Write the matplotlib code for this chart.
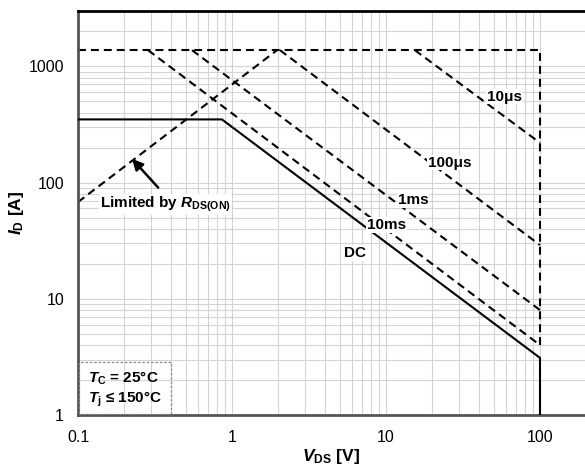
import matplotlib
matplotlib.use('Agg')
import matplotlib.pyplot as plt
from matplotlib.patches import Rectangle

plt.rcParams['font.family'] = ['Liberation Sans', 'DejaVu Sans']
plt.rcParams['mathtext.fontset'] = 'custom'
plt.rcParams['mathtext.rm'] = 'Liberation Sans:bold'
plt.rcParams['mathtext.it'] = 'Liberation Sans:bold:italic'
plt.rcParams['mathtext.bf'] = 'Liberation Sans:bold'

# safe operating area curves (V_DS in V, I_D in A)
vds_dc = [0.1, 0.86, 100, 100]
id_dc = [350, 350, 3.1, 1]

vds_top = [0.1, 100, 100]
id_top = [1380, 1380, 4.0]

vds_rds = [0.1, 1.96]
id_rds = [68, 1380]

pulse_names = ['10μs', '100μs', '1ms', '10ms']
pulse_vds = [[15.4, 100], [2.05, 100], [0.55, 100], [0.285, 100]]
pulse_id = [[1380, 220], [1380, 29], [1380, 8.0], [1380, 4.0]]
label_pos = [(59, 550), (26, 149), (15, 71), (10.1, 43)]

xticks = [0.1, 1, 10, 100]
xticklabels = ['0.1', '1', '10', '100']
yticks = [1, 10, 100, 1000]
yticklabels = ['1', '10', '100', '1000']


def main():
    fig = plt.figure(figsize=(5.85, 4.75), dpi=100)
    ax = fig.add_axes([78 / 585, 1 - 415 / 475, 1 - 78 / 585, (415 - 11) / 475])
    ax.set_xscale('log')
    ax.set_yscale('log')
    ax.set_xlim(0.1, 196)
    ax.set_ylim(1, 3000)

    ax.grid(True, which='both', color='#d4d4d4', lw=0.8)
    ax.set_axisbelow(True)

    dash = dict(color='black', lw=1.5, dashes=(3.8, 2.4))
    ax.plot(vds_dc, id_dc, color='black', lw=1.5, zorder=3)
    ax.plot(vds_top, id_top, **dash)
    ax.plot(vds_rds, id_rds, **dash)
    for v, i in zip(pulse_vds, pulse_id):
        ax.plot(v, i, **dash)

    bb = dict(facecolor='white', edgecolor='none', pad=0.5)
    for name, (x, y) in zip(pulse_names, label_pos):
        ax.text(x, y, name, fontsize=11, fontweight='bold', ha='center', va='center',
                bbox=bb, zorder=4)
    ax.text(6.3, 24.9, 'DC', fontsize=11, fontweight='bold', ha='center', va='center',
            bbox=bb, zorder=4)

    ax.text(0.139, 64.6, r'Limited by $\mathit{R}_{\mathrm{DS(ON)}}$', fontsize=11,
            fontweight='bold', ha='left', va='center', bbox=bb, zorder=4)
    ax.annotate('', xy=(0.218, 167), xytext=(0.341, 87),
                arrowprops=dict(arrowstyle='-|>', color='black', lw=1.8,
                                mutation_scale=16), zorder=5)

    ax.add_patch(Rectangle((0.102, 1.02), 0.401 - 0.102, 2.86 - 1.02, fill=False,
                           edgecolor='#888888', ls=(0, (2, 1.5)), lw=0.9, zorder=4))
    ax.text(0.116, 2.08, r'$T$$_{\mathrm{C}}$ = 25°C', fontsize=11, fontweight='bold',
            ha='left', va='center', zorder=5)
    ax.text(0.116, 1.37, r'$T$$_{\mathrm{j}}$ ≤ 150°C', fontsize=11, fontweight='bold',
            ha='left', va='center', zorder=5)

    ax.set_xticks(xticks)
    ax.set_xticklabels(xticklabels)
    ax.set_yticks(yticks)
    ax.set_yticklabels(yticklabels)
    ax.minorticks_on()
    ax.tick_params(which='both', length=0, labelsize=11.5)
    ax.tick_params(axis='x', pad=11)
    ax.tick_params(axis='y', pad=10)
    ax.xaxis.set_minor_formatter(plt.NullFormatter())
    ax.yaxis.set_minor_formatter(plt.NullFormatter())

    ax.spines['right'].set_visible(False)
    ax.spines['top'].set_color('black')
    ax.spines['top'].set_linewidth(2)
    for s in ['left', 'bottom']:
        ax.spines[s].set_color('#555555')
        ax.spines[s].set_linewidth(2)

    ax.set_xlabel(r'$V$$_{\mathrm{DS}}$ [V]', fontsize=12.5, fontweight='bold', labelpad=1)
    ax.set_ylabel(r'$I$$_{\mathrm{D}}$ [A]', fontsize=12.5, fontweight='bold', labelpad=2)

    fig.savefig('out.png', dpi=100)


if __name__ == '__main__':
    main()
